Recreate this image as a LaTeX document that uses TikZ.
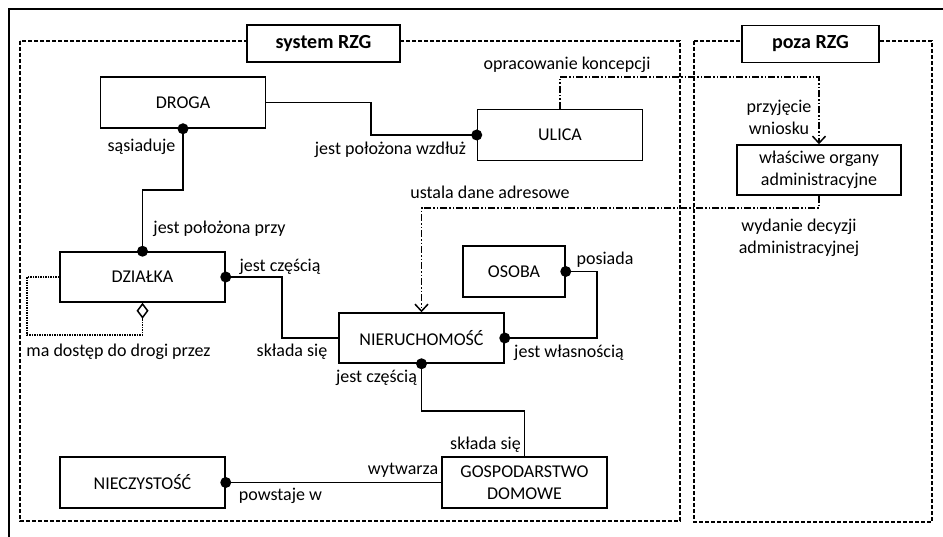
\documentclass[tikz,border=0pt]{standalone}
\usepackage{fontspec}
\setmainfont{Carlito}
\usetikzlibrary{arrows.meta}

\begin{document}
\begin{tikzpicture}[x=1pt,y=-1pt,
    font=\fontsize{18}{22}\selectfont,
    entity/.style={draw, line width=1.5pt, fill=white, minimum width=165pt, minimum height=51pt, inner sep=2pt, align=center},
    title/.style={entity, font=\fontsize{20}{24}\selectfont\bfseries, minimum height=37pt},
    region/.style={line width=1.4pt, dash pattern=on 4pt off 2pt},
    rel/.style={line width=1.5pt},
    flow/.style={line width=1.4pt, dash pattern=on 7pt off 2pt on 1.5pt off 2pt on 1.5pt off 2pt,
        -{Straight Barb[length=7pt,width=13pt,line width=1.5pt]}},
    access/.style={line width=1.4pt, dash pattern=on 1.5pt off 1pt,
        -{Diamond[open,length=16pt,width=12pt,line width=1.5pt]}},
    lbl/.style={inner sep=0pt}
]
\useasboundingbox (0,0) rectangle (943,537);

% ramka
\draw[line width=1.6pt] (943,9) -- (9,9) -- (9,537);

% obszary
\draw[region] (20,41) rectangle (680,521);
\draw[region] (694,41) rectangle (932,522);
\node[title, minimum width=153pt] (sysRZG) at (323.5,43.5) {system RZG};
\node[title, minimum width=137pt] (pozaRZG) at (810.5,44) {poza RZG};

% obiekty
\node[entity] (droga) at (183,102.5) {DROGA};
\node[entity] (ulica) at (560,135) {ULICA};
\node[entity, minimum height=50pt] (dzialka) at (142.5,277) {DZIAŁKA};
\node[entity, minimum height=50pt] (nier) at (421.5,338) {NIERUCHOMOŚĆ};
\node[entity, minimum width=102pt] (osoba) at (514,271.5) {OSOBA};
\node[entity] (gosp) at (524.5,482.5) {GOSPODARSTWO\\DOMOWE};
\node[entity] (niecz) at (142.5,482.5) {NIECZYSTOŚĆ};
\node[entity, minimum width=164pt, minimum height=50pt] (organy) at (819,170) {właściwe organy\\administracyjne};

% powiazania
\coordinate (kDU) at (371,135);
\coordinate (kDD) at (183,190);
\coordinate (kDN) at (282,338);
\coordinate (kON) at (597,338);
\coordinate (kNG) at (524.5,411);
\coordinate (kLoop) at (27,335);
\draw[rel] (droga.east) -| (kDU) -- (ulica.west);
\draw[rel] (droga.south) -- (kDD) -| (dzialka.north);
\draw[rel] (dzialka.east) -| (kDN) -- (nier.west);
\draw[rel] (osoba.east) -| (kON) -- (nier.east);
\draw[rel] (nier.south) |- (kNG) -- (gosp.north);
\draw[rel] (niecz.east) -- (gosp.west);
\draw[access] (dzialka.west) -| (kLoop) -| (dzialka.south);
\foreach \p in {ulica.west, droga.south, dzialka.north, dzialka.east, osoba.east, nier.east, nier.south, niecz.east}
    \fill (\p) circle (5.5pt);

% przeplyw
\coordinate (kUO) at (819,77);
\coordinate (kAdr) at (819,208);
\draw[flow] (ulica.north) |- (kUO) -- (organy.north);
\draw[flow] (organy.south) -- (kAdr) -| (nier.north);

% etykiety
\node[lbl] (lSas) at (141.5,147) {sąsiaduje};
\node[lbl] (lWzd) at (390.5,150) {jest położona wzdłuż};
\node[lbl] (lPrzy) at (219.5,229) {jest położona przy};
\node[lbl] (lCz1) at (280,267) {jest częścią};
\node[lbl] (lSkl1) at (292,352) {składa się};
\node[lbl] (lDost) at (118.5,352) {ma dostęp do drogi przez};
\node[lbl] (lPos) at (605,260) {posiada};
\node[lbl] (lWlas) at (569,353) {jest własnością};
\node[lbl] (lCz2) at (376.5,378) {jest częścią};
\node[lbl] (lSkl2) at (485.5,445) {składa się};
\node[lbl] (lWytw) at (403,470) {wytwarza};
\node[lbl] (lPow) at (280.5,496) {powstaje w};
\node[lbl] (lKonc) at (567,65) {opracowanie koncepcji};
\node[lbl, align=center] (lWn) at (779,117) {przyjęcie\\wniosku};
\node[lbl] (lAdr) at (490,192) {ustala dane adresowe};
\node[lbl, align=center] (lDec) at (799,238) {wydanie decyzji\\administracyjnej};
\end{tikzpicture}
\end{document}
